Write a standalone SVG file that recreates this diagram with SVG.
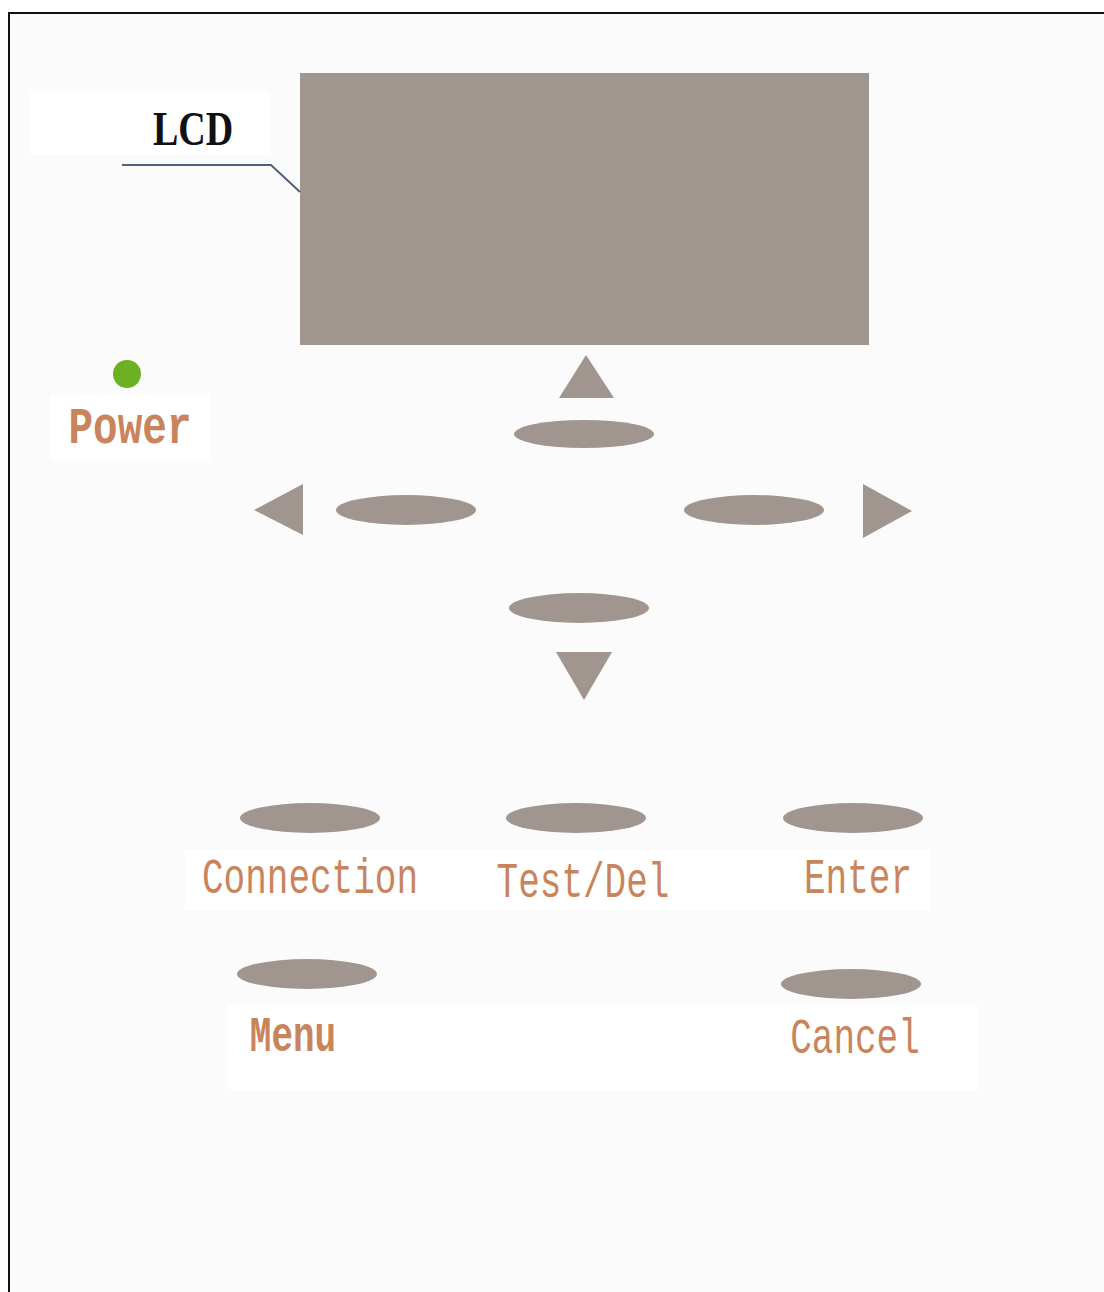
<svg xmlns="http://www.w3.org/2000/svg" width="1104" height="1292" viewBox="0 0 1104 1292">
<style>
.btn{fill:#a1958f}
.arr{fill:#a1958f}
.lbl{font-family:"Liberation Mono",monospace;font-size:36px;fill:#c9845c}
.lblb{font-family:"Liberation Mono",monospace;font-size:36px;fill:#c9845c;font-weight:bold}
</style>
<rect x="0" y="0" width="1104" height="1292" fill="#ffffff"/>
<rect x="9" y="13" width="1100" height="1290" fill="#fbfbfb"/>
<rect x="30" y="92" width="240" height="62" fill="#ffffff"/>
<rect x="50" y="395" width="160" height="65" fill="#ffffff"/>
<rect x="185" y="850" width="745" height="60" fill="#ffffff"/>
<rect x="228" y="1005" width="750" height="85" fill="#ffffff"/>
<path d="M9,1292 V13 H1104" fill="none" stroke="#111" stroke-width="2"/>
<g id="lcd">
<rect x="300" y="73" width="569" height="272" fill="#a1958f"/>
<text x="0" y="0" transform="translate(193,145) scale(1,1.3)" text-anchor="middle" font-family="Liberation Serif,serif" font-weight="bold" font-size="38" fill="#111">LCD</text>
</g>
<g id="connectors">
<path d="M122,165 H271 L300,192" fill="none" stroke="#4d6178" stroke-width="2"/>
</g>
<g id="power">
<circle cx="127" cy="374" r="14" fill="#6cb023"/>
<text transform="translate(130,443) scale(1,1.25)" text-anchor="middle" class="lblb" style="font-size:41px">Power</text>
</g>
<g id="up">
<polygon class="arr" points="586,355 614,398 559,398"/>
<ellipse class="btn" cx="584" cy="434" rx="70" ry="14"/>
</g>
<g id="left">
<polygon class="arr" points="254,510 303,484 303,535"/>
<ellipse class="btn" cx="406" cy="510" rx="70" ry="15"/>
</g>
<g id="right">
<ellipse class="btn" cx="754" cy="510" rx="70" ry="15"/>
<polygon class="arr" points="912,511 863,484 863,538"/>
</g>
<g id="down">
<ellipse class="btn" cx="579" cy="608" rx="70" ry="15"/>
<polygon class="arr" points="556,652 612,652 584,700"/>
</g>
<g id="connection">
<ellipse class="btn" cx="310" cy="818" rx="70" ry="15"/>
<text transform="translate(310,893) scale(1,1.4)" text-anchor="middle" class="lbl">Connection</text>
</g>
<g id="testdel">
<ellipse class="btn" cx="576" cy="818" rx="70" ry="15"/>
<text transform="translate(583,897) scale(1,1.4)" text-anchor="middle" class="lbl">Test/Del</text>
</g>
<g id="enter">
<ellipse class="btn" cx="853" cy="818" rx="70" ry="15"/>
<text transform="translate(858,893) scale(1,1.4)" text-anchor="middle" class="lbl">Enter</text>
</g>
<g id="menu">
<ellipse class="btn" cx="307" cy="974" rx="70" ry="15"/>
<text transform="translate(293,1051) scale(1,1.4)" text-anchor="middle" class="lblb">Menu</text>
</g>
<g id="cancel">
<ellipse class="btn" cx="851" cy="984" rx="70" ry="15"/>
<text transform="translate(855,1053) scale(1,1.4)" text-anchor="middle" class="lbl">Cancel</text>
</g>
</svg>
